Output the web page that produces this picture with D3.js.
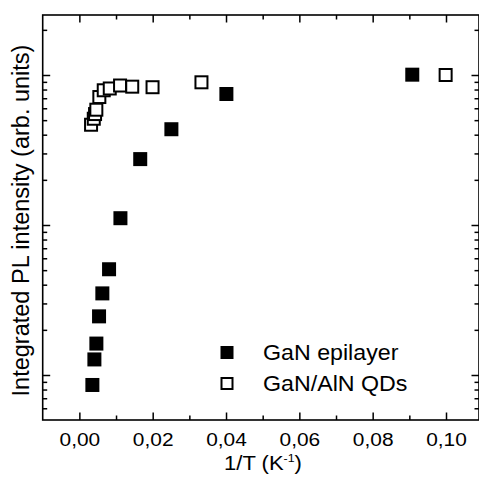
<!DOCTYPE html>
<html>
<head>
<meta charset="utf-8">
<script src="https://cdn.jsdelivr.net/npm/d3@7"></script>
<style>
  body { margin: 0; background: #fff; }
  svg { display: block; }
  text { font-family: "Liberation Sans", Arial, Helvetica, sans-serif; fill: #000; }
</style>
</head>
<body>
<svg id="chart" width="479" height="483"></svg>
<script>
// Integrated PL intensity versus inverse temperature
const epiX = [0.00355, 0.0041, 0.00464, 0.00537, 0.00627, 0.0081, 0.0112, 0.0166, 0.0251, 0.0401, 0.0908];
const epiY = [0.858, 1.27, 1.62, 2.46, 3.5, 5.07, 11.1, 27.5, 43.5, 74.7, 100.5];

const qdX = [0.00319, 0.00393, 0.00428, 0.00463, 0.00545, 0.00665, 0.00829, 0.0111, 0.01442, 0.01996, 0.0333, 0.0999];
const qdY = [46.6, 51.1, 54.9, 58.7, 71.3, 79.1, 81.3, 85.1, 83.6, 82.9, 89.4, 100];

const seriesNames = ["GaN epilayer", "GaN/AlN QDs"];

const xTicks = [0, 0.02, 0.04, 0.06, 0.08, 0.10];
const xMinorTicks = [0.01, 0.03, 0.05, 0.07, 0.09];
const yMajorTicks = [1, 10, 100];
const yMinorTicks = [0.6, 0.7, 0.8, 0.9, 2, 3, 4, 5, 6, 7, 8, 9, 20, 30, 40, 50, 60, 70, 80, 90, 200];

const svg = d3.select("#chart");
const plotL = 42.7, plotR = 479, plotT = 15, plotB = 420;

const x = d3.scaleLinear().domain([-0.01, 0.109]).range([plotL, plotR]);
const y = d3.scaleLog().domain([Math.pow(10, -0.3), Math.pow(10, 2.4)]).range([plotB, plotT]);

const fmt = v => d3.format(".2f")(v).replace(".", ",");
const majorLen = 7.5, minorLen = 4.5;

function styleAxis(g) {
  g.select(".domain").remove();
  g.selectAll(".tick line").attr("stroke", "#000").attr("stroke-width", 1.5);
}

// bottom axis: inward ticks with labels
const gB = svg.append("g").attr("transform", `translate(0,${plotB})`)
  .call(d3.axisBottom(x).tickValues(xTicks).tickSize(-majorLen).tickPadding(12.5).tickFormat(fmt));
styleAxis(gB);
gB.selectAll(".tick text")
  .attr("font-size", 18.5)
  .attr("font-family", "Liberation Sans, Arial, sans-serif")
  .attr("fill", "#000")
  .attr("transform", "scale(1.13,1)");
svg.append("g").attr("transform", `translate(0,${plotB})`)
  .call(d3.axisBottom(x).tickValues(xMinorTicks).tickSize(-minorLen).tickFormat(""))
  .call(styleAxis);

// top axis
svg.append("g").attr("transform", `translate(0,${plotT})`)
  .call(d3.axisTop(x).tickValues(xTicks).tickSize(-majorLen).tickFormat(""))
  .call(styleAxis);
svg.append("g").attr("transform", `translate(0,${plotT})`)
  .call(d3.axisTop(x).tickValues(xMinorTicks).tickSize(-minorLen).tickFormat(""))
  .call(styleAxis);

// left and right log axes without labels
svg.append("g").attr("transform", `translate(${plotL},0)`)
  .call(d3.axisLeft(y).tickValues(yMajorTicks).tickSize(-majorLen).tickFormat(""))
  .call(styleAxis);
svg.append("g").attr("transform", `translate(${plotL},0)`)
  .call(d3.axisLeft(y).tickValues(yMinorTicks).tickSize(-minorLen).tickFormat(""))
  .call(styleAxis);
svg.append("g").attr("transform", `translate(${plotR},0)`)
  .call(d3.axisRight(y).tickValues(yMajorTicks).tickSize(-majorLen).tickFormat(""))
  .call(styleAxis);
svg.append("g").attr("transform", `translate(${plotR},0)`)
  .call(d3.axisRight(y).tickValues(yMinorTicks).tickSize(-minorLen).tickFormat(""))
  .call(styleAxis);

// frame
svg.append("rect")
  .attr("x", plotL).attr("y", plotT)
  .attr("width", plotR - plotL).attr("height", plotB - plotT)
  .attr("fill", "none").attr("stroke", "#000").attr("stroke-width", 1.6);

// data markers
const filledSize = 14, openSize = 12;
const epi = epiX.map((v, i) => ({ x: v, y: epiY[i] }));
const qd = qdX.map((v, i) => ({ x: v, y: qdY[i] }));

svg.append("g").selectAll("rect").data(qd).join("rect")
  .attr("x", d => x(d.x) - openSize / 2)
  .attr("y", d => y(d.y) - openSize / 2)
  .attr("width", openSize).attr("height", openSize)
  .attr("fill", "#fff").attr("stroke", "#000").attr("stroke-width", 2);

svg.append("g").selectAll("rect").data(epi).join("rect")
  .attr("x", d => x(d.x) - filledSize / 2)
  .attr("y", d => y(d.y) - filledSize / 2)
  .attr("width", filledSize).attr("height", filledSize)
  .attr("fill", "#000");

// legend
const legend = svg.append("g");
const legY = [352.5, 383.5];
legend.append("rect")
  .attr("x", 227 - 6.5).attr("y", legY[0] - 6.5)
  .attr("width", 13).attr("height", 13).attr("fill", "#000");
legend.append("rect")
  .attr("x", 227 - 5.5).attr("y", legY[1] - 5.5)
  .attr("width", 11).attr("height", 11)
  .attr("fill", "#fff").attr("stroke", "#000").attr("stroke-width", 2);
seriesNames.forEach((name, i) => {
  legend.append("text")
    .attr("transform", `translate(263,${legY[i] + 7.8}) scale(1.08,1)`)
    .attr("font-size", 21.5)
    .text(name);
});

// axis titles
const xt = svg.append("text")
  .attr("transform", "translate(263,470) scale(1.13,1)")
  .attr("text-anchor", "middle")
  .attr("font-size", 19.5);
xt.append("tspan").text("1/T (K");
xt.append("tspan").attr("font-size", 11).attr("dy", -8).text("-1");
xt.append("tspan").attr("dy", 8).text(")");

svg.append("text")
  .attr("transform", "translate(29,220.5) rotate(-90)")
  .attr("text-anchor", "middle")
  .attr("font-size", 23.5)
  .text("Integrated PL intensity (arb. units)");
</script>
</body>
</html>
